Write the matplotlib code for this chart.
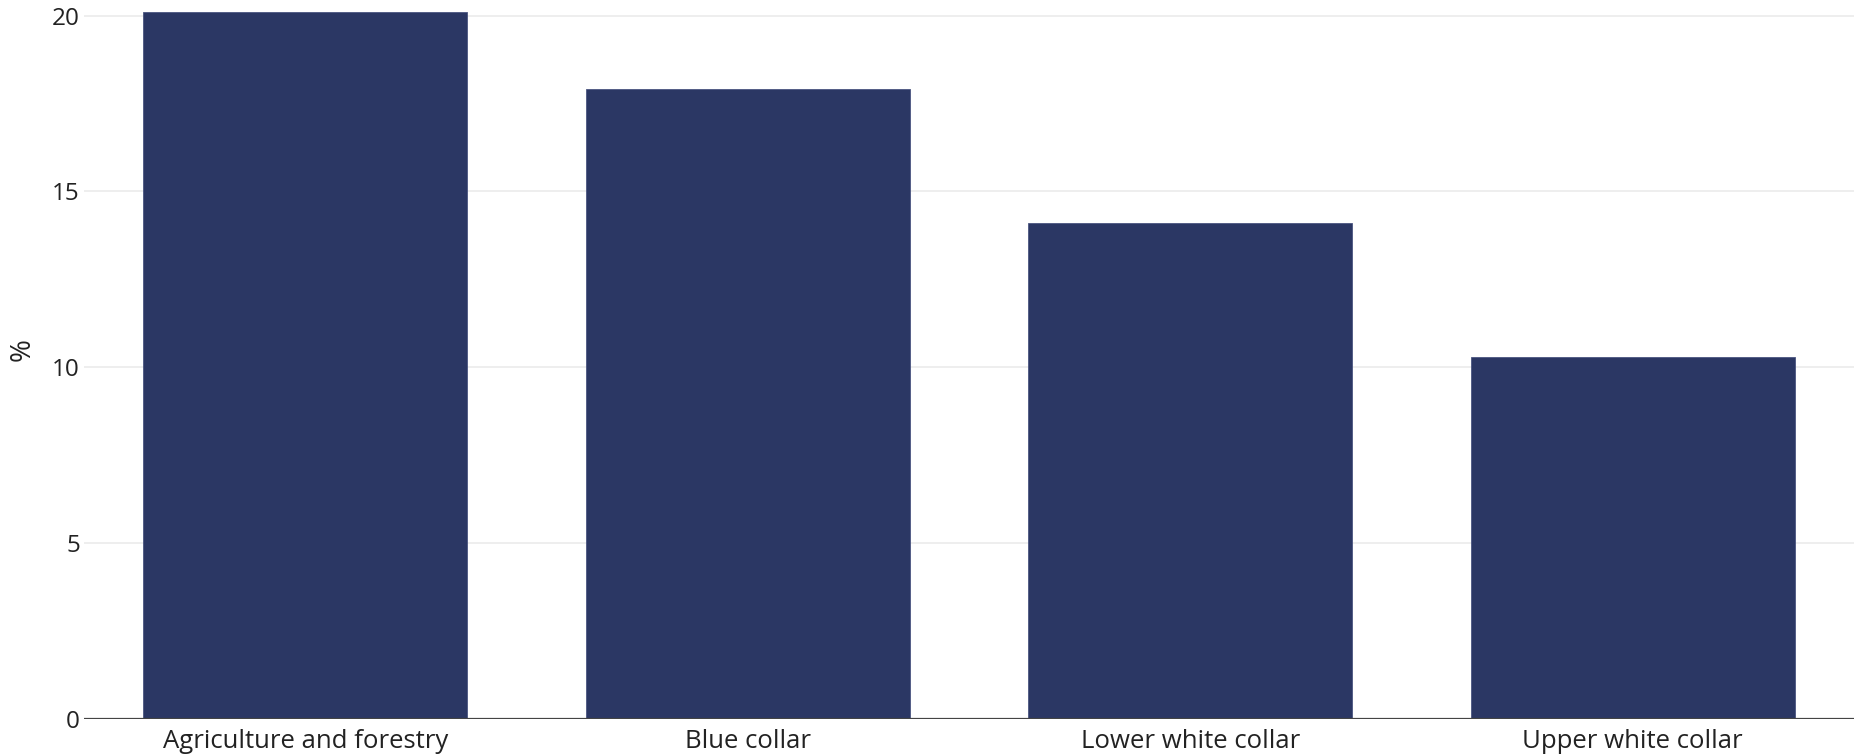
import matplotlib
matplotlib.use('Agg')
import matplotlib.pyplot as plt

categories = ['Agriculture and forestry', 'Blue collar', 'Lower white collar', 'Upper white collar']
values = [20.1, 17.9, 14.1, 10.3]
yticks = [0, 5, 10, 15, 20]

plt.rcParams['font.family'] = ['Open Sans', 'DejaVu Sans']

fig = plt.figure(figsize=(18.54, 7.56), dpi=100)
ax = fig.add_axes([84 / 1854, 1 - 719 / 756, 1 - 84 / 1854, (719 - 8.6) / 756])

x = list(range(len(categories)))
ax.bar(x, values, width=0.733, color='#2b3764', edgecolor='#4a5580', linewidth=0.6, zorder=2)

ax.set_xlim(-0.5, len(categories) - 0.5)
ax.set_ylim(0, 20.2)
ax.set_yticks(yticks)
ax.set_yticklabels([str(t) for t in yticks])
ax.set_xticks(x)
ax.set_xticklabels(categories)

ax.grid(axis='y', color='#ebebeb', linewidth=1.2, zorder=0)
ax.axhline(0, color='#444444', linewidth=1.6, zorder=3)

for s in ax.spines.values():
    s.set_visible(False)
ax.tick_params(axis='y', length=0, labelsize=17.5, colors='#222222', pad=3)
ax.tick_params(axis='x', length=0, labelsize=18.5, colors='#222222', pad=7)
ax.set_ylabel('%', fontsize=20, color='#222222')
ax.yaxis.set_label_coords(-0.027, 0.52)

fig.savefig('out.png', dpi=100)
